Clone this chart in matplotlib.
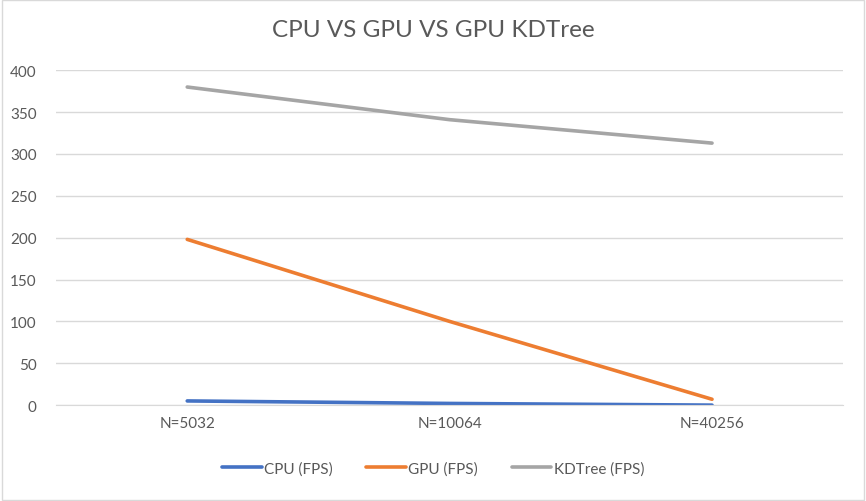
import matplotlib
matplotlib.use("Agg")
import matplotlib.pyplot as plt
import numpy as np

plt.rcParams['font.family'] = ['Lato', 'DejaVu Sans']

categorias = ["N=5032", "N=10064", "N=40256"]
cpu_fps = [5, 2, 0]
gpu_fps = [198, 100, 7]
kdtree_fps = [380, 341, 313]
series = ["CPU (FPS)", "GPU (FPS)", "KDTree (FPS)"]
colores = ["#4472C4", "#ED7D31", "#A5A5A5"]

fig = plt.figure(figsize=(8.66, 5.02), dpi=100)
ax = fig.add_axes([0.0647, 0.191, 0.909, 0.667])

x = np.arange(len(categorias))
for datos, nombre, color in zip([cpu_fps, gpu_fps, kdtree_fps], series, colores):
    ax.plot(x, datos, color=color, linewidth=2.6, label=nombre, solid_capstyle='round')

ax.set_xlim(-0.5, 2.5)
ax.set_ylim(0, 400)
ax.set_yticks(range(0, 401, 50))
ax.set_xticks(x)
ax.set_xticklabels(categorias)
ax.grid(axis='y', color='#d9d9d9', linewidth=1)
ax.set_axisbelow(True)
for s in ['top', 'right', 'left']:
    ax.spines[s].set_visible(False)
ax.spines['bottom'].set_color('#d9d9d9')
ax.tick_params(length=0, labelsize=11, colors='#595959', pad=8)
ax.tick_params(axis='y', pad=14)

fig.text(0.5, 0.94, "CPU VS GPU VS GPU KDTree", ha='center', va='center',
         fontsize=17.5, color='#595959')

fig.legend(loc='center', bbox_to_anchor=(0.5, 0.065), ncol=3, frameon=False,
           fontsize=11, handlelength=2.6, columnspacing=2.2, handletextpad=0.15,
           labelcolor='#595959')

# borde del grafico
fig.patches.append(plt.Rectangle((0.002, 0.002), 0.996, 0.996, transform=fig.transFigure,
                                 fill=False, edgecolor='#d9d9d9', linewidth=1))

fig.savefig("out.png", dpi=100)
